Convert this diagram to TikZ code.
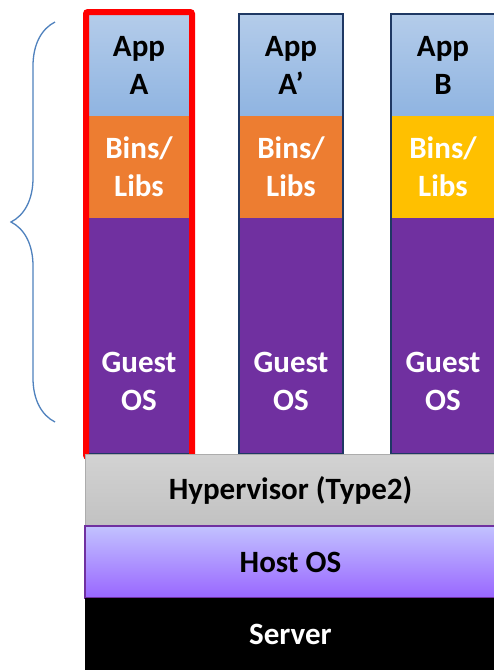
\documentclass[tikz,border=0pt]{standalone}
\usepackage{fontspec}
\setmainfont{Carlito}
\usetikzlibrary{positioning, decorations.pathreplacing}
\definecolor{appTop}{HTML}{B4CCEA}
\definecolor{appBot}{HTML}{8FB4E1}
\definecolor{binsOrange}{HTML}{ED7D31}
\definecolor{binsYellow}{HTML}{FFC000}
\definecolor{guestPurple}{HTML}{7030A0}
\definecolor{colNavy}{HTML}{1F3864}
\definecolor{braceBlue}{HTML}{4F81BD}
\definecolor{hostTop}{HTML}{C2C2FF}
\definecolor{hostBot}{HTML}{9966FF}

\begin{document}
\begin{tikzpicture}[x=1pt, y=1pt,
	txt/.style={align=center, font=\bfseries\fontsize{31}{38}\selectfont},
	cell/.style={txt, minimum width=104pt, inner sep=0pt, outer sep=0pt},
	app/.style={cell, minimum height=102pt, top color=appTop, bottom color=appBot},
	bins/.style={cell, minimum height=102pt, fill=#1, text=white},
	guest/.style={cell, minimum height=236pt, fill=guestPurple},
	layer/.style={txt, minimum width=411pt, minimum height=72pt, inner sep=0pt, outer sep=0pt}]
	\useasboundingbox (0,0) rectangle (494,-670);

	% brace over the guest stacks
	\coordinate (braceTop) at (55,-22);
	\coordinate (braceBot) at (55,-422);
	\draw[braceBlue, line width=1.3pt, decorate, decoration={brace, amplitude=44pt}] (braceBot) -- (braceTop);

	% three virtual machines, each a stack of cells
	\node[app]                         (appA)   at (139,-65) {App\\A};
	\node[bins=binsOrange, below=0pt of appA]  (binsA)  {Bins/\\Libs};
	\node[guest, below=0pt of binsA]   (guestA) {};
	\node[app, right=48pt of appA]     (appA2)  {App\\A’};
	\node[bins=binsOrange, below=0pt of appA2] (binsA2) {Bins/\\Libs};
	\node[guest, below=0pt of binsA2]  (guestA2) {};
	\node[app, right=48pt of appA2]    (appB)   {App\\B};
	\node[bins=binsYellow, below=0pt of appB]  (binsB)  {Bins/\\Libs};
	\node[guest, below=0pt of binsB]   (guestB) {};

	\foreach \g in {guestA, guestA2, guestB}
		\node[txt, text=white, yshift=-45pt] at (\g) {Guest\\OS};

	\foreach \a/\g in {appA/guestA, appA2/guestA2, appB/guestB}
		\draw[colNavy, line width=2pt] (\a.north west) rectangle (\g.south east);

	% highlighted machine
	\draw[red, line width=6pt, rounded corners=2pt] ([xshift=-1pt, yshift=2pt]appA.north west) rectangle ([xshift=1pt, yshift=-3pt]guestA.south east);

	% host layers
	\node[layer, top color=gray!35, bottom color=gray!48, draw=gray!65, line width=1pt, anchor=north west] (hyp) at (85,-454) {Hypervisor (Type2)};
	\node[layer, top color=hostTop, bottom color=hostBot, draw=guestPurple, line width=1.5pt, below=0pt of hyp] (host) {Host OS};
	\node[layer, fill=black, text=white, below=0pt of host] (srv) {Server};
\end{tikzpicture}
\end{document}
